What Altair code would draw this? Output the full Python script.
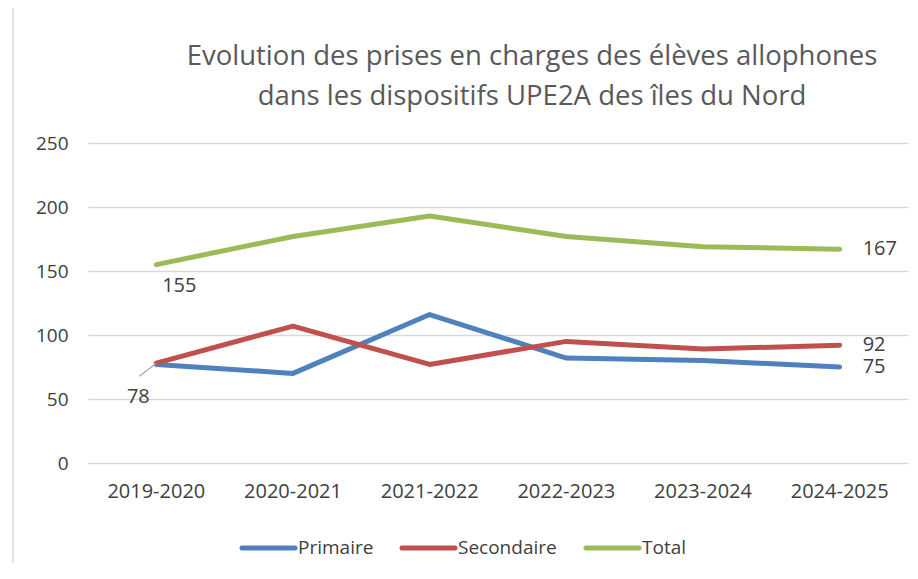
import altair as alt
import pandas as pd

years = ["2019-2020", "2020-2021", "2021-2022", "2022-2023", "2023-2024", "2024-2025"]
primaire = [77, 70, 116, 82, 80, 75]
secondaire = [78, 107, 77, 95, 89, 92]
total = [155, 177, 193, 177, 169, 167]
series = ["Primaire", "Secondaire", "Total"]
colors = ["#4F81BD", "#C0504D", "#9BBB59"]
title_lines = ["Evolution des prises en charges des élèves allophones",
               "dans les dispositifs UPE2A des îles du Nord"]

rows = []
for name, vals in zip(series, [primaire, secondaire, total]):
    for y, v in zip(years, vals):
        rows.append({"annee": y, "serie": name, "valeur": v})
df = pd.DataFrame(rows)

lab_rows = [
    {"annee": years[0], "serie": "Total", "valeur": total[0], "kind": "below"},
    {"annee": years[-1], "serie": "Total", "valeur": total[-1], "kind": "right"},
    {"annee": years[-1], "serie": "Secondaire", "valeur": secondaire[-1], "kind": "right"},
    {"annee": years[-1], "serie": "Primaire", "valeur": primaire[-1], "kind": "right"},
    {"annee": years[0], "serie": "Secondaire", "valeur": secondaire[0], "kind": "leader"},
]
labs = pd.DataFrame(lab_rows)

FONT = "Open Sans"
TXT = "#404040"

color = alt.Color("serie:N", scale=alt.Scale(domain=series, range=colors), legend=None)
yscale = alt.Scale(domain=[0, 250], nice=False, zero=True)

x = alt.X("annee:N", sort=years, title=None,
          axis=alt.Axis(labelAngle=0, labelFontSize=20, labelColor=TXT, labelFont=FONT,
                        ticks=False, domain=True, domainColor="#D9D9D9", labelPadding=18,
                        grid=False))
y = alt.Y("valeur:Q", title=None, scale=yscale,
          axis=alt.Axis(values=[0, 50, 100, 150, 200, 250], labelFontSize=19, labelColor=TXT,
                        labelFont=FONT, ticks=False, domain=False, gridColor="#D9D9D9",
                        gridWidth=1.3, labelPadding=20))
y_plain = alt.Y("valeur:Q", scale=yscale)
x_plain = alt.X("annee:N", sort=years)

lines = alt.Chart(df).mark_line(strokeWidth=5, strokeCap="round", strokeJoin="round").encode(
    x=x, y=y, color=color)

one = pd.DataFrame({"k": [0]})
title1 = alt.Chart(one).mark_text(
    fontSize=27.5, font=FONT, color="#595959", align="center", baseline="alphabetic").encode(
    x=alt.value(444), y=alt.value(-78), text=alt.value(title_lines[0]))
title2 = alt.Chart(one).mark_text(
    fontSize=27.5, font=FONT, color="#595959", align="center", baseline="alphabetic").encode(
    x=alt.value(444), y=alt.value(-38), text=alt.value(title_lines[1]))

frame = alt.Chart(one).mark_rule(color="#D9D9D9", strokeWidth=1.5).encode(
    x=alt.value(-75), y=alt.value(-143), y2=alt.value(430))

# manual legend (symbol line + label for each series)
leg_df = pd.DataFrame({"serie": series})
leg_x = [154, 314, 498]
leg_layers = []
for name, lx in zip(series, leg_x):
    d = leg_df[leg_df["serie"] == name]
    leg_layers.append(alt.Chart(d).mark_rule(strokeWidth=5, strokeCap="round").encode(
        x=alt.value(lx), x2=alt.value(lx + 53), y=alt.value(405), color=color))
    leg_layers.append(alt.Chart(d).mark_text(
        fontSize=19, font=FONT, color=TXT, align="left", baseline="middle").encode(
        x=alt.value(lx + 56), y=alt.value(405), text="serie:N"))

base_t = alt.Chart(labs)
t_below = base_t.transform_filter("datum.kind == 'below'").mark_text(
    fontSize=20, font=FONT, color=TXT, dx=23, dy=21).encode(
    x=x_plain, y=y_plain, text="valeur:Q")
t_right = base_t.transform_filter("datum.kind == 'right'").mark_text(
    fontSize=20, font=FONT, color=TXT, align="left", dx=23, dy=0).encode(
    x=x_plain, y=y_plain, text="valeur:Q")
t_lead = base_t.transform_filter("datum.kind == 'leader'").mark_text(
    fontSize=20, font=FONT, color=TXT, dx=-18, dy=34).encode(
    x=x_plain, y=y_plain, text="valeur:Q")
leader = base_t.transform_filter("datum.kind == 'leader'").mark_rule(
    color="#A6A6A6", strokeWidth=1.2, x2Offset=-17, y2Offset=13).encode(
    x=x_plain, y=y_plain,
    x2=alt.X2("annee:N"), y2=alt.Y2("valeur:Q"))

chart = alt.layer(frame, lines, leader, t_below, t_right, t_lead, title1, title2,
                  *leg_layers).properties(
    width=820, height=320,
    autosize=alt.AutoSizeParams(type="none"),
    padding={"left": 80, "top": 135, "right": 2, "bottom": 100},
    background="white",
).configure_view(stroke=None)

chart.save("out.html", embed_options={"renderer": "svg", "actions": False})
